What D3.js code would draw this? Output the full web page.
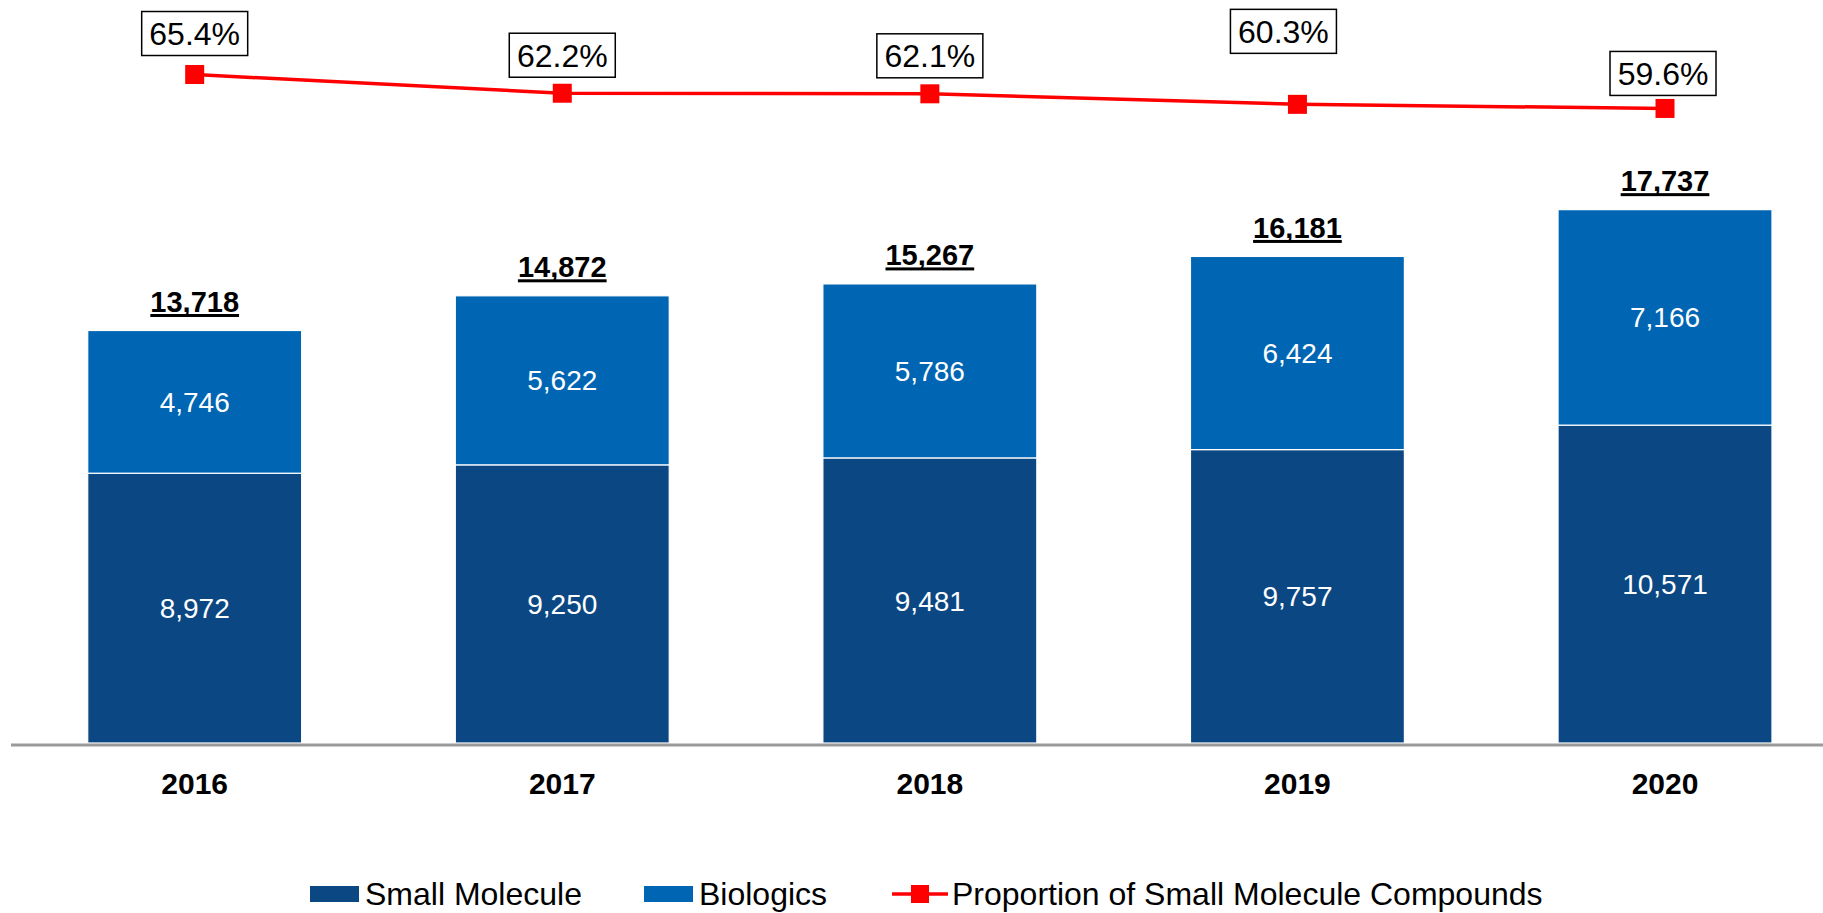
<!DOCTYPE html>
<html>
<head>
<meta charset="utf-8">
<script src="https://cdn.jsdelivr.net/npm/d3@7"></script>
<style>
  html, body { margin: 0; padding: 0; background: #fff; }
  svg { display: block; font-family: "Liberation Sans", Arial, sans-serif; }
</style>
</head>
<body>
<div id="chart"></div>
<script>

// data
const years = ["2016", "2017", "2018", "2019", "2020"];
const smallMolecule = [8972, 9250, 9481, 9757, 10571];
const biologics = [4746, 5622, 5786, 6424, 7166];
const totals = [13718, 14872, 15267, 16181, 17737];
const proportion = [65.4, 62.2, 62.1, 60.3, 59.6];

// nudges for the percent boxes (layout only)
const pctShift = [[0, -41], [0, -38], [0, -38], [-14, -73], [-2, -35]];

svgWidth = 1823;
svgHeight = 913;

svg = d3.select("#chart")
    .append("svg")
    .attr("width", svgWidth)
    .attr("height", svgHeight);

// scales
xScale = d3.scaleBand()
    .domain(years)
    .range([10.9, 1848.8])
    .paddingInner(0.418)
    .paddingOuter(0.209);

yScale = d3.scaleLinear()
    .domain([0, 20000])
    .range([743, 141.6]);

pctScale = d3.scaleLinear()
    .domain([0, 70])
    .range([457.1, 47.6]);

const darkBlue = "#0b4883";
const lightBlue = "#0066b3";
const red = "#ff0000";

// stacked bars
rows = years.map((y, i) => ({year: y, small: smallMolecule[i], bio: biologics[i]}));
stack = d3.stack().keys(["small", "bio"])(rows);
colors = {small: darkBlue, bio: lightBlue};

stack.forEach(function(layer) {
    svg.append("g")
        .selectAll("rect")
        .data(layer)
        .join("rect")
        .attr("x", d => xScale(d.data.year))
        .attr("y", d => yScale(d[1]))
        .attr("width", xScale.bandwidth())
        .attr("height", d => yScale(d[0]) - yScale(d[1]))
        .attr("fill", colors[layer.key])
        .attr("stroke", "#ffffff")
        .attr("stroke-width", 1.2);

    svg.append("g")
        .selectAll("text")
        .data(layer)
        .join("text")
        .attr("x", d => xScale(d.data.year) + xScale.bandwidth() / 2)
        .attr("y", d => (yScale(d[0]) + yScale(d[1])) / 2)
        .attr("dy", "0.36em")
        .attr("text-anchor", "middle")
        .attr("fill", "#ffffff")
        .attr("font-size", 28)
        .text(d => d3.format(",")(d[1] - d[0]));
});

// axis line along the bottom
xAxis = d3.axisBottom(xScale).tickSize(0).tickPadding(0);
axisG = svg.append("g")
    .attr("transform", "translate(0, 745)")
    .call(xAxis);
axisG.select(".domain").remove();
axisG.append("line")
    .attr("x1", 11).attr("x2", svgWidth)
    .attr("y1", 0).attr("y2", 0)
    .attr("stroke", "#9a9a9a")
    .attr("stroke-width", 3);
axisG.selectAll(".tick text")
    .attr("y", 49)
    .attr("dy", 0)
    .attr("fill", "#000")
    .attr("font-size", 30)
    .attr("font-weight", "bold")
    .attr("font-family", "Liberation Sans, Arial, sans-serif");

// totals, bold + underlined
totalG = svg.append("g");
years.forEach(function(y, i) {
    cx = xScale(y) + xScale.bandwidth() / 2;
    base = yScale(totals[i]) - 18.5;
    t = totalG.append("text")
        .attr("x", cx)
        .attr("y", base)
        .attr("text-anchor", "middle")
        .attr("font-size", 29)
        .attr("font-weight", "bold")
        .text(d3.format(",")(totals[i]));
    w = t.node().getComputedTextLength();
    totalG.append("rect")
        .attr("x", cx - w / 2)
        .attr("y", base + 2)
        .attr("width", w)
        .attr("height", 3)
        .attr("fill", "#000");
});

// proportion line
line = d3.line()
    .x((d, i) => xScale(years[i]) + xScale.bandwidth() / 2)
    .y(d => pctScale(d));

svg.append("path")
    .datum(proportion)
    .attr("d", line)
    .attr("fill", "none")
    .attr("stroke", red)
    .attr("stroke-width", 3.5);

svg.append("g")
    .selectAll("rect")
    .data(proportion)
    .join("rect")
    .attr("x", (d, i) => xScale(years[i]) + xScale.bandwidth() / 2 - 9.5)
    .attr("y", d => pctScale(d) - 9.5)
    .attr("width", 19)
    .attr("height", 19)
    .attr("fill", red);

// percent boxes
pctG = svg.append("g");
proportion.forEach(function(p, i) {
    cx = xScale(years[i]) + xScale.bandwidth() / 2 + pctShift[i][0];
    cy = pctScale(p) + pctShift[i][1];
    pctG.append("rect")
        .attr("x", cx - 53)
        .attr("y", cy - 22)
        .attr("width", 106)
        .attr("height", 44)
        .attr("fill", "#fff")
        .attr("stroke", "#000")
        .attr("stroke-width", 1.5);
    pctG.append("text")
        .attr("x", cx)
        .attr("y", cy)
        .attr("dy", "0.36em")
        .attr("text-anchor", "middle")
        .attr("font-size", 32)
        .text(p.toFixed(1) + "%");
});

// legend (lifted a few px so descenders stay inside the page)
legend = svg.append("g").attr("font-size", 32);
legend.append("rect").attr("x", 310).attr("y", 886).attr("width", 49).attr("height", 16).attr("fill", darkBlue);
legend.append("text").attr("x", 365).attr("y", 905).text("Small Molecule");
legend.append("rect").attr("x", 644).attr("y", 886).attr("width", 49).attr("height", 16).attr("fill", lightBlue);
legend.append("text").attr("x", 699).attr("y", 905).text("Biologics");
legend.append("line").attr("x1", 892).attr("x2", 948).attr("y1", 894).attr("y2", 894)
    .attr("stroke", red).attr("stroke-width", 3.5);
legend.append("rect").attr("x", 911).attr("y", 885).attr("width", 18).attr("height", 18).attr("fill", red);
legend.append("text").attr("x", 952).attr("y", 905).text("Proportion of Small Molecule Compounds");

</script>
</body>
</html>
